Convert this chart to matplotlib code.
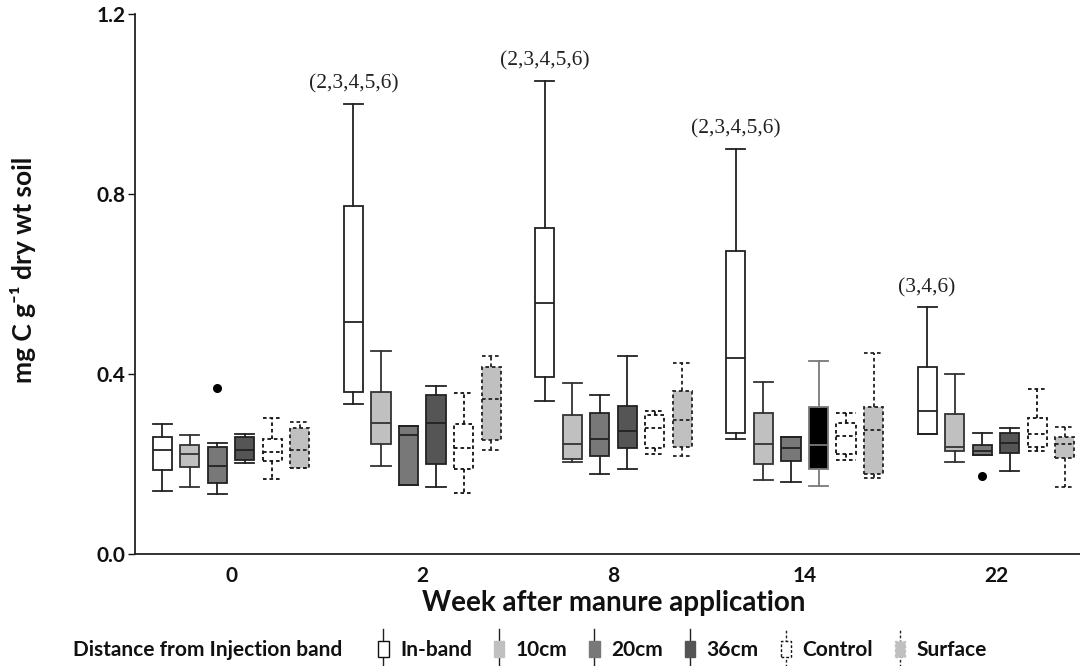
import matplotlib
matplotlib.use("Agg")
import matplotlib.pyplot as plt
from matplotlib.patches import Rectangle, Patch
from matplotlib.lines import Line2D
from matplotlib.legend_handler import HandlerBase

# ---------------- data ----------------
weeks = ['0', '2', '8', '14', '22']
series = ['In-band', '10cm', '20cm', '36cm', 'Control', 'Surface']

inband_whislo = [0.140, 0.333, 0.341, 0.256, 0.267]
inband_q1     = [0.187, 0.359, 0.394, 0.268, 0.267]
inband_med    = [0.232, 0.516, 0.557, 0.436, 0.317]
inband_q3     = [0.261, 0.773, 0.725, 0.673, 0.415]
inband_whishi = [0.289, 1.001, 1.052, 0.901, 0.548]

cm10_whislo = [0.149, 0.196, 0.205, 0.164, 0.205]
cm10_q1     = [0.193, 0.244, 0.211, 0.199, 0.229]
cm10_med    = [0.223, 0.292, 0.244, 0.244, 0.237]
cm10_q3     = [0.243, 0.361, 0.308, 0.314, 0.312]
cm10_whishi = [0.264, 0.451, 0.380, 0.382, 0.400]

cm20_whislo = [0.133, 0.153, 0.178, 0.161, 0.220]
cm20_q1     = [0.157, 0.153, 0.217, 0.207, 0.220]
cm20_med    = [0.196, 0.264, 0.256, 0.235, 0.229]
cm20_q3     = [0.237, 0.284, 0.314, 0.261, 0.242]
cm20_whishi = [0.247, 0.284, 0.353, 0.261, 0.270]
cm20_fliers = [[0.369], [], [], [], [0.174]]

cm36_whislo = [0.202, 0.150, 0.190, 0.151, 0.184]
cm36_q1     = [0.208, 0.199, 0.235, 0.190, 0.225]
cm36_med    = [0.232, 0.292, 0.273, 0.242, 0.247]
cm36_q3     = [0.259, 0.353, 0.329, 0.327, 0.270]
cm36_whishi = [0.267, 0.374, 0.439, 0.430, 0.279]

control_whislo = [0.167, 0.135, 0.223, 0.210, 0.229]
control_q1     = [0.207, 0.190, 0.235, 0.222, 0.238]
control_med    = [0.227, 0.235, 0.279, 0.262, 0.267]
control_q3     = [0.256, 0.290, 0.308, 0.291, 0.303]
control_whishi = [0.303, 0.357, 0.318, 0.314, 0.367]

surface_whislo = [0.191, 0.231, 0.217, 0.170, 0.149]
surface_q1     = [0.191, 0.253, 0.238, 0.178, 0.213]
surface_med    = [0.231, 0.344, 0.297, 0.276, 0.244]
surface_q3     = [0.281, 0.416, 0.362, 0.327, 0.261]
surface_whishi = [0.293, 0.439, 0.424, 0.447, 0.282]

annotations = ['', '(2,3,4,5,6)', '(2,3,4,5,6)', '(2,3,4,5,6)', '(3,4,6)']

# ---------------- styles ----------------
fills = ['#ffffff', '#c0c0c0', '#787878', '#555555', '#ffffff', '#c0c0c0']
edges = ['#222222', '#333333', '#222222', '#222222', '#111111', '#222222']
dashed = [False, False, False, False, True, True]

all_stats = [
    (inband_whislo, inband_q1, inband_med, inband_q3, inband_whishi, None),
    (cm10_whislo, cm10_q1, cm10_med, cm10_q3, cm10_whishi, None),
    (cm20_whislo, cm20_q1, cm20_med, cm20_q3, cm20_whishi, cm20_fliers),
    (cm36_whislo, cm36_q1, cm36_med, cm36_q3, cm36_whishi, None),
    (control_whislo, control_q1, control_med, control_q3, control_whishi, None),
    (surface_whislo, surface_q1, surface_med, surface_q3, surface_whishi, None),
]

FONT = ['Lato', 'DejaVu Sans']
plt.rcParams['font.family'] = FONT
plt.rcParams['font.weight'] = 'bold'

fig = plt.figure(figsize=(10.8, 6.66), dpi=100)
ax = fig.add_axes([135 / 1080, 1 - 554 / 666, 1 - 135 / 1080, (554 - 14) / 666])

step = 0.144
width = 0.10

for si, (lo, q1, med, q3, hi, fl) in enumerate(all_stats):
    for gi in range(len(weeks)):
        st = dict(whislo=lo[gi], q1=q1[gi], med=med[gi], q3=q3[gi], whishi=hi[gi],
                  fliers=(fl[gi] if fl is not None else []))
        pos = gi + (si - 2.5) * step
        fc = fills[si]
        ec = edges[si]
        lw = 1.3
        ls = (0, (2.0, 1.6)) if dashed[si] else '-'
        mc = ec
        if si == 3 and weeks[gi] == '14':
            fc = '#000000'
            ec = '#7a7a7a'
            mc = '#7a7a7a'
        ax.bxp([st], positions=[pos], widths=width, patch_artist=True,
               showfliers=True, manage_ticks=False,
               boxprops=dict(facecolor=fc, edgecolor=ec, linewidth=lw, linestyle=ls),
               medianprops=dict(color=mc, linewidth=lw, linestyle=ls),
               whiskerprops=dict(color=ec, linewidth=lw, linestyle=ls),
               capprops=dict(color=ec, linewidth=lw, linestyle=ls),
               capwidths=width,
               flierprops=dict(marker='o', markerfacecolor='black',
                               markeredgecolor='black', markersize=5.5))

# annotations above In-band boxes
for gi, txt in enumerate(annotations):
    if txt:
        ax.annotate(txt, xy=(gi - 2.5 * step, inband_whishi[gi]), xytext=(0, 7),
                    textcoords='offset points', ha='center', va='bottom',
                    fontsize=15.5, fontweight='normal',
                    family=['Liberation Serif', 'DejaVu Serif'], color='#222222')

ax.set_xlim(-(231 - 135) / 191.25, (1080 - 231) / 191.25)
ax.set_ylim(0, 1.2)
ax.set_yticks([0.0, 0.4, 0.8, 1.2])
ax.set_yticklabels(['0.0', '0.4', '0.8', '1.2'])
ax.set_xticks(range(len(weeks)))
ax.set_xticklabels(weeks)

for s in ['top', 'right']:
    ax.spines[s].set_visible(False)
for s in ['left', 'bottom']:
    ax.spines[s].set_color('#222222')
    ax.spines[s].set_linewidth(1.3)

ax.tick_params(axis='y', direction='out', length=5, width=1.0, pad=2,
               labelsize=15, colors='#111111')
ax.tick_params(axis='x', length=0, pad=9, labelsize=15, colors='#111111')
for lab in ax.get_xticklabels() + ax.get_yticklabels():
    lab.set_fontweight('bold')

ax.set_xlabel('Week after manure application', fontsize=20, fontweight='bold', color='#111111')
ax.xaxis.set_label_coords((614 - 135) / 945, (554 - 590) / 540)
ax.set_ylabel('mg C g\u207b\u00b9 dry wt soil', fontsize=19, fontweight='bold', color='#111111')
ax.yaxis.set_label_coords((36 - 135) / 945, (554 - 270) / 540)


# ---------------- legend ----------------
class BoxHandler(HandlerBase):
    def create_artists(self, legend, orig_handle, xdescent, ydescent, width, height,
                       fontsize, trans):
        cx = -xdescent + width / 2
        cy = -ydescent + height / 2
        bw = 0.5 * fontsize
        bh = 0.75 * fontsize
        ls = orig_handle.get_linestyle()
        line = Line2D([cx, cx], [cy - 0.95 * fontsize, cy + 0.95 * fontsize],
                      color='#222222', linewidth=1.0, linestyle=ls, transform=trans)
        rect = Rectangle((cx - bw / 2, cy - bh / 2), bw, bh,
                         facecolor=orig_handle.get_facecolor(),
                         edgecolor=orig_handle.get_edgecolor(),
                         linewidth=1.0, linestyle=ls, transform=trans)
        return [line, rect]


leg_fills = ['#ffffff', '#c0c0c0', '#787878', '#555555', '#ffffff', '#c0c0c0']
leg_edges = ['#111111', '#c0c0c0', '#787878', '#555555', '#111111', '#c0c0c0']
handles = []
for i, name in enumerate(series):
    handles.append(Patch(facecolor=leg_fills[i], edgecolor=leg_edges[i],
                         linestyle=(0, (2, 1.5)) if dashed[i] else '-', label=name))

fig.text(73 / 1080, 1 - 650 / 666, 'Distance from Injection band', fontsize=15,
         fontweight='bold', ha='left', va='center', color='#111111')
leg = fig.legend(handles=handles, labels=series, handler_map={Patch: BoxHandler()},
                 loc='center left', bbox_to_anchor=(375 / 1080, 1 - 650 / 666),
                 ncol=6, frameon=False, borderpad=0, borderaxespad=0,
                 handlelength=0.8, handletextpad=0.4, columnspacing=0.9,
                 prop=dict(family=FONT, weight='bold', size=15))
for t in leg.get_texts():
    t.set_color('#111111')

fig.savefig('out.png', dpi=100)
